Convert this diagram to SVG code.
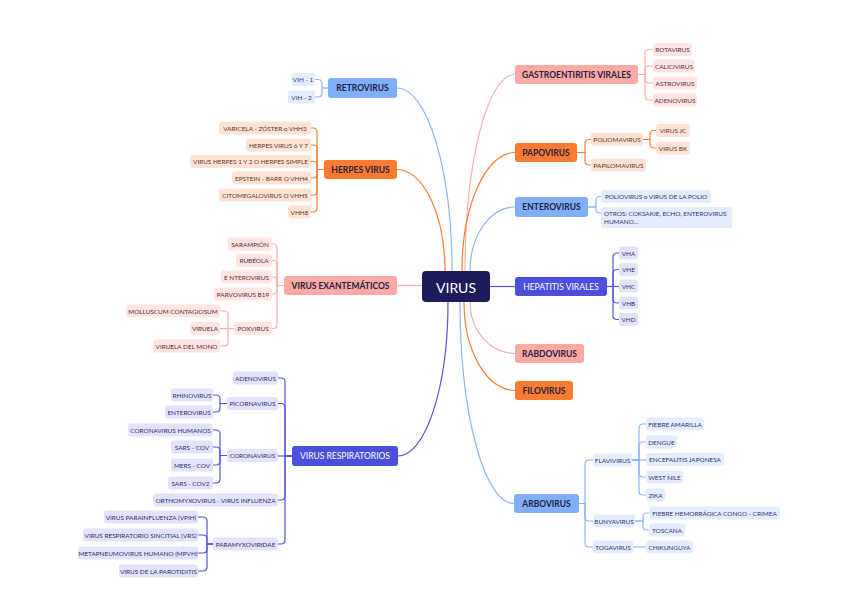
<svg xmlns="http://www.w3.org/2000/svg" width="848" height="599" viewBox="0 0 848 599">
<style>
text{font-family:Lato,"Liberation Sans",sans-serif;text-anchor:middle;dominant-baseline:central}
.m text{font-size:8.5px;font-weight:700;fill:#22223f}
.m rect{rx:3px}
.c text{font-size:6.4px;font-weight:400}
.c rect{rx:3px}
.mlb rect{fill:#80aef9}.mor rect{fill:#fd7b31}.msa rect{fill:#fea9a4}.min rect{fill:#4b4fdc}
.min text{fill:#fff;font-weight:400}
.clb rect{fill:#e4edfe}.clb text{fill:#2a3570}
.cor rect{fill:#fee3d4}.cor text{fill:#5e3428}
.csa rect{fill:#fee5e4}.csa text{fill:#5a2a2c}
.cin rect{fill:#e2e3fa}.cin text{fill:#2c2e6e}
#links path{fill:none;stroke-width:1.2}
.lb{stroke:#8cb4fb}.or{stroke:#fb7d35}.sa{stroke:#fbaeaa}.in{stroke:#5356dc}
</style>
<rect width="848" height="599" fill="#fff"/>
<g id="links">
<path class="lb" d="M397,88 A55,183 0 0 1 452,271"/>
<path class="or" d="M397,169.5 A48,101.5 0 0 1 445,271"/>
<path class="sa" d="M397,285.5 H422"/>
<path class="in" d="M448,302 A50,154 0 0 1 398,456"/>
<path class="sa" d="M465,271 A50,196.5 0 0 1 515,74.5"/>
<path class="or" d="M462,271 A53,118.5 0 0 1 515,152.5"/>
<path class="lb" d="M470,271 A45,64 0 0 1 515,207"/>
<path class="in" d="M490,286.5 H515"/>
<path class="sa" d="M470,302 A45,51.5 0 0 0 515,353.5"/>
<path class="or" d="M464,302 A51,88.5 0 0 0 515,390.5"/>
<path class="lb" d="M460,302 A54,201.5 0 0 0 514,503.5"/>
<path class="lb" d="M328,88 H322 V83.5 Q322,79.5 318,79.5 H315"/>
<path class="lb" d="M328,88 H322 V93 Q322,97 318,97 H315"/>
<path class="or" d="M324,169.5 H317 V132 Q317,128 313,128 H311"/>
<path class="or" d="M324,169.5 H317 V149 Q317,145 313,145 H311"/>
<path class="or" d="M324,169.5 H317 V165.5 Q317,161.5 313,161.5 H311"/>
<path class="or" d="M324,169.5 H317 V174 Q317,178 313,178 H311"/>
<path class="or" d="M324,169.5 H317 V191 Q317,195 313,195 H311"/>
<path class="or" d="M324,169.5 H317 V208 Q317,212 313,212 H311"/>
<path class="sa" d="M284,285.5 H277 V248 Q277,244 273,244 H272"/>
<path class="sa" d="M284,285.5 H277 V264.5 Q277,260.5 273,260.5 H272"/>
<path class="sa" d="M284,285.5 H277 V281 Q277,277 273,277 H272"/>
<path class="sa" d="M284,285.5 H277 V290 Q277,294 273,294 H272"/>
<path class="sa" d="M284,285.5 H277 V324.5 Q277,328.5 273,328.5 H272"/>
<path class="sa" d="M234,328.5 H228 V315 Q228,311 224,311 H220"/>
<path class="sa" d="M234,328.5 H220"/>
<path class="sa" d="M234,328.5 H228 V342 Q228,346 224,346 H220"/>
<path class="in" d="M292,456 H285 V382 Q285,378 281,378 H278"/>
<path class="in" d="M292,456 H285 V407.5 Q285,403.5 281,403.5 H278"/>
<path class="in" d="M292,456 H278"/>
<path class="in" d="M292,456 H285 V496 Q285,500 281,500 H278"/>
<path class="in" d="M292,456 H285 V540 Q285,544 281,544 H278"/>
<path class="in" d="M227,403.5 H220 V399 Q220,395 216,395 H213"/>
<path class="in" d="M227,403.5 H220 V408 Q220,412 216,412 H213"/>
<path class="in" d="M227,455.5 H220 V434 Q220,430 216,430 H213"/>
<path class="in" d="M227,455.5 H220 V451 Q220,447 216,447 H213"/>
<path class="in" d="M227,455.5 H220 V461 Q220,465 216,465 H213"/>
<path class="in" d="M227,455.5 H220 V479 Q220,483 216,483 H213"/>
<path class="in" d="M213,544 H207 V521 Q207,517 203,517 H198"/>
<path class="in" d="M213,544 H207 V539 Q207,535 203,535 H198"/>
<path class="in" d="M213,544 H207 V549 Q207,553 203,553 H198"/>
<path class="in" d="M213,544 H207 V567 Q207,571 203,571 H198"/>
<path class="sa" d="M638,74.5 H645 V53.5 Q645,49.5 649,49.5 H653"/>
<path class="sa" d="M638,74.5 H645 V70 Q645,66 649,66 H653"/>
<path class="sa" d="M638,74.5 H645 V79 Q645,83 649,83 H653"/>
<path class="sa" d="M638,74.5 H645 V96 Q645,100 649,100 H653"/>
<path class="or" d="M577,152.5 H585 V143.5 Q585,139.5 589,139.5 H591"/>
<path class="or" d="M577,152.5 H585 V161 Q585,165 589,165 H591"/>
<path class="or" d="M643,139.5 H650 V134.5 Q650,130.5 654,130.5 H656"/>
<path class="or" d="M643,139.5 H650 V144 Q650,148 654,148 H656"/>
<path class="lb" d="M588,207 H596 V200.5 Q596,196.5 600,196.5 H601"/>
<path class="lb" d="M588,207 H596 V209 Q596,213 600,213 H601"/>
<path class="in" d="M607,286.5 H613 V257 Q613,253 617,253 H619"/>
<path class="in" d="M607,286.5 H613 V273.5 Q613,269.5 617,269.5 H619"/>
<path class="in" d="M607,286.5 H619"/>
<path class="in" d="M607,286.5 H613 V299 Q613,303 617,303 H619"/>
<path class="in" d="M607,286.5 H613 V315.5 Q613,319.5 617,319.5 H619"/>
<path class="lb" d="M579,503.5 H585 V464 Q585,460 589,460 H593"/>
<path class="lb" d="M579,503.5 H585 V517 Q585,521 589,521 H593"/>
<path class="lb" d="M579,503.5 H585 V543 Q585,547 589,547 H593"/>
<path class="lb" d="M632,460 H639 V428 Q639,424 643,424 H646"/>
<path class="lb" d="M632,460 H639 V446 Q639,442 643,442 H646"/>
<path class="lb" d="M632,460 H646"/>
<path class="lb" d="M632,460 H639 V473 Q639,477 643,477 H646"/>
<path class="lb" d="M632,460 H639 V491 Q639,495 643,495 H646"/>
<path class="lb" d="M635,521 H643 V517 Q643,513 647,513 H649"/>
<path class="lb" d="M635,521 H643 V526 Q643,530 647,530 H649"/>
<path class="lb" d="M633,547 H646"/>
</g>

<g id="virus"><rect x="422" y="271" width="68" height="31" rx="4" fill="#1d1b5c"/><text x="456" y="287" style="font-size:14px;fill:#fff">VIRUS</text></g>

<g id="retrovirus" class="m mlb"><rect x="328" y="78" width="69" height="20"/><text x="362.5" y="88">RETROVIRUS</text></g>
<g id="herpes" class="m mor"><rect x="324" y="160" width="73" height="19"/><text x="360.5" y="169.5">HERPES VIRUS</text></g>
<g id="exantematicos" class="m msa"><rect x="284" y="276" width="113" height="19"/><text x="340.5" y="285.5">VIRUS EXANTEMÁTICOS</text></g>
<g id="respiratorios" class="m min"><rect x="292" y="446" width="106" height="20"/><text x="345" y="456">VIRUS RESPIRATORIOS</text></g>
<g id="gastro" class="m msa"><rect x="515" y="65" width="123" height="19"/><text x="576.5" y="74.5">GASTROENTIRITIS VIRALES</text></g>
<g id="papovirus" class="m mor"><rect x="515" y="143" width="62" height="19"/><text x="546" y="152.5">PAPOVIRUS</text></g>
<g id="enterovirus" class="m mlb"><rect x="515" y="197" width="73" height="20"/><text x="551.5" y="207">ENTEROVIRUS</text></g>
<g id="hepatitis" class="m min"><rect x="515" y="277" width="92" height="19"/><text x="561" y="286.5">HEPATITIS VIRALES</text></g>
<g id="rabdovirus" class="m msa"><rect x="515" y="344" width="69" height="19"/><text x="549.5" y="353.5">RABDOVIRUS</text></g>
<g id="filovirus" class="m mor"><rect x="515" y="381" width="58" height="19"/><text x="544" y="390.5">FILOVIRUS</text></g>
<g id="arbovirus" class="m mlb"><rect x="514" y="494" width="65" height="19"/><text x="546.5" y="503.5">ARBOVIRUS</text></g>

<g id="vih1" class="c clb"><rect x="291" y="73" width="24" height="13"/><text x="303" y="79.5">VIH - 1</text></g>
<g id="vih2" class="c clb"><rect x="288" y="90.5" width="27" height="13"/><text x="301.5" y="97">VIH - 2</text></g>

<g id="varicela" class="c cor"><rect x="219" y="121.5" width="92" height="13"/><text x="265" y="128">VARICELA - ZÓSTER o VHH3</text></g>
<g id="herpes67" class="c cor"><rect x="246" y="138.5" width="65" height="13"/><text x="278.5" y="145">HERPES VIRUS 6 Y 7</text></g>
<g id="herpes12" class="c cor"><rect x="190" y="155" width="121" height="13"/><text x="250.5" y="161.5">VIRUS HERPES 1 Y 2 O HERPES SIMPLE</text></g>
<g id="epstein" class="c cor"><rect x="232" y="171.5" width="79" height="13"/><text x="271.5" y="178">EPSTEIN - BARR O VHH4</text></g>
<g id="citomegalo" class="c cor"><rect x="219" y="188.5" width="92" height="13"/><text x="265" y="195">CITOMEGALOVIRUS O VHH5</text></g>
<g id="vhh8" class="c cor"><rect x="288" y="205.5" width="23" height="13"/><text x="299.5" y="212">VHH8</text></g>

<g id="sarampion" class="c csa"><rect x="228" y="237.5" width="44" height="13"/><text x="250" y="244">SARAMPIÓN</text></g>
<g id="rubeola" class="c csa"><rect x="236" y="254" width="36" height="13"/><text x="254" y="260.5">RUBÉOLA</text></g>
<g id="enterovirus-ex" class="c csa"><rect x="221" y="270.5" width="51" height="13"/><text x="246.5" y="277">E NTEROVIRUS</text></g>
<g id="parvovirus" class="c csa"><rect x="214" y="287.5" width="58" height="13"/><text x="243" y="294">PARVOVIRUS B19</text></g>
<g id="poxvirus" class="c csa"><rect x="234" y="322" width="38" height="13"/><text x="253" y="328.5">POXVIRUS</text></g>
<g id="molluscum" class="c csa"><rect x="126" y="304.5" width="94" height="13"/><text x="173" y="311">MOLLUSCUM CONTAGIOSUM</text></g>
<g id="viruela" class="c csa"><rect x="190" y="322" width="30" height="13"/><text x="205" y="328.5">VIRUELA</text></g>
<g id="viruela-mono" class="c csa"><rect x="153" y="339.5" width="67" height="13"/><text x="186.5" y="346">VIRUELA DEL MONO</text></g>

<g id="adenovirus-r" class="c cin"><rect x="233" y="371.5" width="45" height="13"/><text x="255.5" y="378">ADENOVIRUS</text></g>
<g id="picornavirus" class="c cin"><rect x="227" y="397" width="51" height="13"/><text x="252.5" y="403.5">PICORNAVIRUS</text></g>
<g id="rhinovirus" class="c cin"><rect x="171" y="388.5" width="42" height="13"/><text x="192" y="395">RHINOVIRUS</text></g>
<g id="enterovirus-r" class="c cin"><rect x="165" y="405.5" width="48" height="13"/><text x="189" y="412">ENTEROVIRUS</text></g>
<g id="coronavirus" class="c cin"><rect x="227" y="449" width="51" height="13"/><text x="252.5" y="455.5">CORONAVIRUS</text></g>
<g id="corona-humanos" class="c cin"><rect x="128" y="423.5" width="85" height="13"/><text x="170.5" y="430">CORONAVIRUS HUMANOS</text></g>
<g id="sars" class="c cin"><rect x="171" y="440.5" width="42" height="13"/><text x="192" y="447">SARS - COV</text></g>
<g id="mers" class="c cin"><rect x="171" y="458.5" width="42" height="13"/><text x="192" y="465">MERS - COV</text></g>
<g id="sars2" class="c cin"><rect x="168" y="476.5" width="45" height="13"/><text x="190.5" y="483">SARS - COV2</text></g>
<g id="orthomyxo" class="c cin"><rect x="153" y="493.5" width="125" height="13"/><text x="215.5" y="500">ORTHOMYXOVIRUS - VIRUS INFLUENZA</text></g>
<g id="paramyxo" class="c cin"><rect x="213" y="537.5" width="65" height="13"/><text x="245.5" y="544">PARAMYXOVIRIDAE</text></g>
<g id="vpih" class="c cin"><rect x="104" y="510.5" width="94" height="13"/><text x="151" y="517">VIRUS PARAINFLUENZA (VPIH)</text></g>
<g id="vrs" class="c cin"><rect x="83" y="528.5" width="115" height="13"/><text x="140.5" y="535">VIRUS RESPIRATORIO SINCITIAL (VRS)</text></g>
<g id="mpvh" class="c cin"><rect x="78" y="546.5" width="120" height="13"/><text x="138" y="553">METAPNEUMOVIRUS HUMANO (MPVH)</text></g>
<g id="parotiditis" class="c cin"><rect x="119" y="564.5" width="79" height="13"/><text x="158.5" y="571">VIRUS DE LA PAROTIDITIS</text></g>

<g id="rotavirus" class="c csa"><rect x="653" y="43" width="39" height="13"/><text x="672.5" y="49.5">ROTAVIRUS</text></g>
<g id="calicivirus" class="c csa"><rect x="653" y="59.5" width="42" height="13"/><text x="674" y="66">CALICIVIRUS</text></g>
<g id="astrovirus" class="c csa"><rect x="653" y="76.5" width="44" height="13"/><text x="675" y="83">ASTROVIRUS</text></g>
<g id="adenovirus-g" class="c csa"><rect x="653" y="93.5" width="44" height="13"/><text x="675" y="100">ADENOVIRUS</text></g>

<g id="poliomavirus" class="c cor"><rect x="591" y="133" width="52" height="13"/><text x="617" y="139.5">POLIOMAVIRUS</text></g>
<g id="papilomavirus" class="c cor"><rect x="591" y="158.5" width="55" height="13"/><text x="618.5" y="165">PAPILOMAVIRUS</text></g>
<g id="virusjc" class="c cor"><rect x="656" y="124" width="34" height="13"/><text x="673" y="130.5">VIRUS JC</text></g>
<g id="virusbk" class="c cor"><rect x="656" y="141.5" width="34" height="13"/><text x="673" y="148">VIRUS BK</text></g>

<g id="poliovirus" class="c clb"><rect x="601" y="190" width="110" height="13"/><text x="656" y="196.5">POLIOVIRUS o VIRUS DE LA POLIO</text></g>
<g id="otros" class="c clb"><rect x="601" y="207" width="131" height="21"/><text x="604" y="213.5" style="text-anchor:start">OTROS: COKSAKIE, ECHO, ENTEROVIRUS</text><text x="604" y="221.5" style="text-anchor:start">HUMANO...</text></g>

<g id="vha" class="c cin"><rect x="619" y="246.5" width="19" height="13"/><text x="628.5" y="253">VHA</text></g>
<g id="vhe" class="c cin"><rect x="619" y="263" width="19" height="13"/><text x="628.5" y="269.5">VHE</text></g>
<g id="vhc" class="c cin"><rect x="619" y="279.5" width="19" height="13"/><text x="628.5" y="286">VHC</text></g>
<g id="vhb" class="c cin"><rect x="619" y="296.5" width="19" height="13"/><text x="628.5" y="303">VHB</text></g>
<g id="vhd" class="c cin"><rect x="619" y="313" width="19" height="13"/><text x="628.5" y="319.5">VHD</text></g>

<g id="flavivirus" class="c clb"><rect x="593" y="453.5" width="39" height="13"/><text x="612.5" y="460">FLAVIVIRUS</text></g>
<g id="bunyavirus" class="c clb"><rect x="593" y="514.5" width="42" height="13"/><text x="614" y="521">BUNYAVIRUS</text></g>
<g id="togavirus" class="c clb"><rect x="593" y="540.5" width="40" height="13"/><text x="613" y="547">TOGAVIRUS</text></g>
<g id="fiebre-amarilla" class="c clb"><rect x="646" y="417.5" width="58" height="13"/><text x="675" y="424">FIEBRE AMARILLA</text></g>
<g id="dengue" class="c clb"><rect x="646" y="435.5" width="31" height="13"/><text x="661.5" y="442">DENGUE</text></g>
<g id="encefalitis" class="c clb"><rect x="646" y="453" width="78" height="13"/><text x="685" y="459.5">ENCEFALITIS JAPONESA</text></g>
<g id="west-nile" class="c clb"><rect x="646" y="470.5" width="37" height="13"/><text x="664.5" y="477">WEST NILE</text></g>
<g id="zika" class="c clb"><rect x="646" y="488.5" width="19" height="13"/><text x="655.5" y="495">ZIKA</text></g>
<g id="fiebre-hemorragica" class="c clb"><rect x="649" y="506.5" width="131" height="13"/><text x="714.5" y="513">FIEBRE HEMORRÁGICA CONGO - CRIMEA</text></g>
<g id="toscana" class="c clb"><rect x="649" y="523.5" width="36" height="13"/><text x="667" y="530">TOSCANA</text></g>
<g id="chikunguya" class="c clb"><rect x="646" y="540.5" width="47" height="13"/><text x="669.5" y="547">CHIKUNGUYA</text></g>
</svg>
